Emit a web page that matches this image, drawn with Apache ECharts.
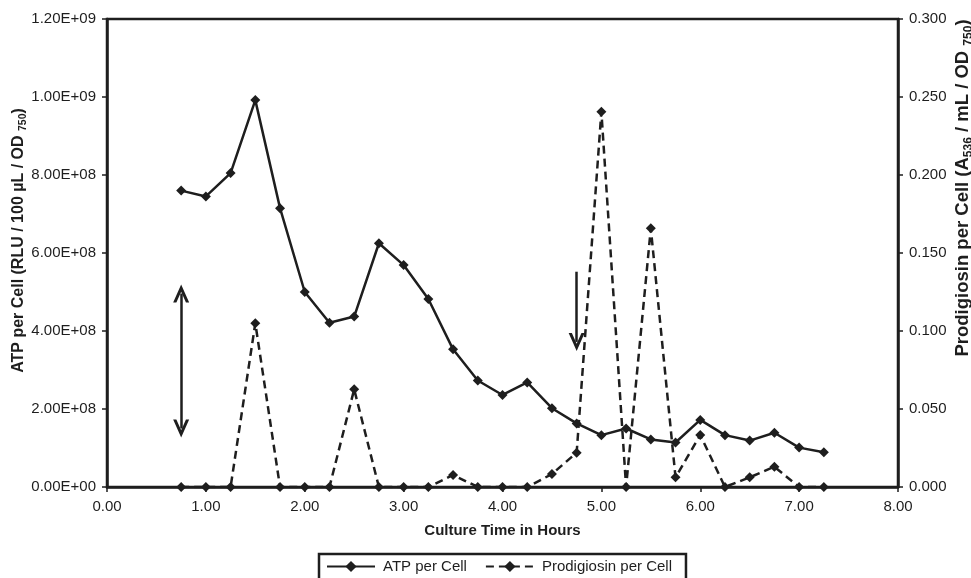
<!DOCTYPE html>
<html>
<head>
<meta charset="utf-8">
<script src="https://cdn.jsdelivr.net/npm/echarts@6/dist/echarts.min.js"></script>
<style>
html,body{margin:0;padding:0;background:#fff;}
#main{width:971px;height:578px;}
</style>
</head>
<body>
<div id="main"></div>
<script>
// ---- data ----
var hours = [0.75, 1.00, 1.25, 1.50, 1.75, 2.00, 2.25, 2.50, 2.75, 3.00, 3.25, 3.50, 3.75, 4.00,
             4.25, 4.50, 4.75, 5.00, 5.25, 5.50, 5.75, 6.00, 6.25, 6.50, 6.75, 7.00, 7.25];
var atpPerCell = [7.60e8, 7.45e8, 8.05e8, 9.92e8, 7.15e8, 5.00e8, 4.21e8, 4.37e8, 6.25e8, 5.69e8,
                  4.82e8, 3.53e8, 2.73e8, 2.36e8, 2.68e8, 2.02e8, 1.63e8, 1.33e8, 1.50e8, 1.22e8,
                  1.14e8, 1.72e8, 1.33e8, 1.19e8, 1.39e8, 1.01e8, 0.89e8];
var prodigiosinPerCell = [0, 0, 0, 0.105, 0, 0, 0, 0.0626, 0, 0, 0, 0.0077, 0, 0, 0, 0.0083, 0.022,
                          0.2406, 0, 0.1658, 0.0062, 0.0333, 0, 0.0062, 0.013, 0, 0];
var seriesNames = ['ATP per Cell', 'Prodigiosin per Cell'];
// annotation arrows (data coordinates: hours, ATP per cell)
var doubleArrow = [[0.75, 4.96e8], [0.75, 1.50e8]];
var downArrow = [[4.75, 5.52e8], [4.75, 3.72e8]];
// axis ranges [min, max, interval]
var xRange = [0, 8, 1];
var leftRange = [0, 1.2e9, 2e8];
var rightRange = [0, 0.3, 0.05];

function sci(v) {
  if (Math.abs(v) < 1e-6) return '0.00E+00';
  var e = Math.floor(Math.log10(v) + 1e-9);
  var m = v / Math.pow(10, e);
  return m.toFixed(2) + 'E+' + (e < 10 ? '0' + e : e);
}
var FONT = '"Liberation Sans", Arial, Helvetica, sans-serif';
var INK = '#1e1e1e';
var chevron = 'path://M0,18 L8,0 L16,18 L12.8,18 L8,7.2 L3.2,18 Z';

function pairs(xs, ys) { return xs.map(function (x, i) { return [x, ys[i]]; }); }

var chart = echarts.init(document.getElementById('main'), null, {renderer: 'canvas'});
chart.setOption({
  backgroundColor: '#fff',
  animation: false,
  textStyle: {fontFamily: FONT, color: INK},
  grid: {left: 107, right: 73, top: 19, bottom: 91, containLabel: false, outerBoundsMode: 'none',
         show: true, borderColor: INK, borderWidth: 2.5, backgroundColor: 'transparent'},
  legend: {
    data: seriesNames,
    left: 319, top: 554,
    padding: [5, 14, 30, 7],
    itemWidth: 48, itemHeight: 14, itemGap: 18,
    borderColor: INK, borderWidth: 2.5,
    textStyle: {fontFamily: FONT, fontSize: 15, color: INK, padding: [0, 0, 0, 3]}
  },
  xAxis: {
    type: 'value', min: xRange[0], max: xRange[1], interval: xRange[2],
    name: 'Culture Time in Hours', nameLocation: 'middle', nameGap: 36, nameMoveOverlap: false,
    nameTextStyle: {fontFamily: FONT, fontSize: 15, fontWeight: 'bold', color: INK},
    axisLine: {show: true, lineStyle: {color: INK, width: 2.5}},
    axisTick: {show: true, length: 5, lineStyle: {color: INK, width: 1.5}},
    axisLabel: {fontFamily: FONT, fontSize: 15, color: INK, margin: 12, formatter: function (v) { return v.toFixed(2); }},
    splitLine: {show: false}
  },
  yAxis: [{
    type: 'value', position: 'left', min: leftRange[0], max: leftRange[1], interval: leftRange[2],
    name: '{t|ATP per Cell (RLU / 100 \u00b5L / OD }{s|750}{t|)}', nameLocation: 'middle', nameGap: 78.5,
    nameMoveOverlap: false,
    nameTextStyle: {padding: [0, 0, 0, 25], rich: {
      t: {fontFamily: FONT, fontSize: 16, fontWeight: 'bold', color: INK, lineHeight: 20},
      s: {fontFamily: FONT, fontSize: 10.5, fontWeight: 'bold', color: INK, lineHeight: 12, verticalAlign: 'bottom'}
    }},
    axisLine: {show: true, lineStyle: {color: INK, width: 2.5}},
    axisTick: {show: true, length: 5, lineStyle: {color: INK, width: 1.5}},
    axisLabel: {fontFamily: FONT, fontSize: 15, color: INK, margin: 11, formatter: sci},
    splitLine: {show: false}
  }, {
    type: 'value', position: 'right', min: rightRange[0], max: rightRange[1], interval: rightRange[2],
    name: '{t|Prodigiosin per Cell (A}{s|536}{t| / mL / OD }{s|750}{t|)}', nameLocation: 'middle', nameGap: 53.5,
    nameMoveOverlap: false,
    nameTextStyle: {padding: [0, 0, 0, 130], rich: {
      t: {fontFamily: FONT, fontSize: 18.5, fontWeight: 'bold', color: INK, lineHeight: 23},
      s: {fontFamily: FONT, fontSize: 12, fontWeight: 'bold', color: INK, lineHeight: 14, verticalAlign: 'bottom'}
    }},
    axisLine: {show: true, lineStyle: {color: INK, width: 2.5}},
    axisTick: {show: true, length: 5, lineStyle: {color: INK, width: 1.5}},
    axisLabel: {fontFamily: FONT, fontSize: 15, color: INK, margin: 11, formatter: function (v) { return v.toFixed(3); }},
    splitLine: {show: false}
  }],
  series: [{
    name: seriesNames[0], type: 'line', yAxisIndex: 0,
    data: pairs(hours, atpPerCell),
    symbol: 'diamond', symbolSize: 10, showSymbol: true,
    itemStyle: {color: INK},
    lineStyle: {color: INK, width: 2.5, type: 'solid'},
    z: 3,
    markLine: {
      silent: true, animation: false,
      label: {show: false},
      lineStyle: {color: INK, width: 2.5, type: 'solid'},
      symbolSize: [16, 18],
      data: [
        [{coord: doubleArrow[0], symbol: chevron}, {coord: doubleArrow[1], symbol: chevron}],
        [{coord: downArrow[0], symbol: 'none'}, {coord: downArrow[1], symbol: chevron}]
      ]
    }
  }, {
    name: seriesNames[1], type: 'line', yAxisIndex: 1,
    data: pairs(hours, prodigiosinPerCell),
    symbol: 'diamond', symbolSize: 10, showSymbol: true,
    itemStyle: {color: INK},
    lineStyle: {color: INK, width: 2.5, type: [8, 5]},
    z: 4
  }]
});
</script>
</body>
</html>
